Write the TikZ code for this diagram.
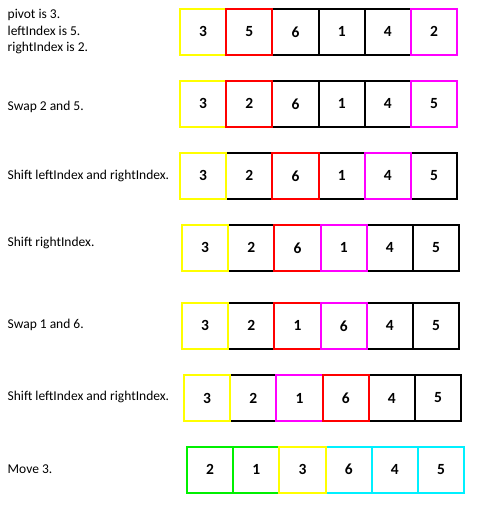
\documentclass[tikz,border=0pt]{standalone}
\usepackage{fontspec}
\setmainfont{Carlito}
\begin{document}
\begin{tikzpicture}[x=1pt,y=-1pt,
  cell/.style={draw=#1, line width=2pt, minimum width=46.2pt, minimum height=46.4pt,
    inner sep=0pt, outer sep=0pt, font=\fontsize{15.5}{17}\selectfont\bfseries},
  lbl/.style={anchor=west, inner sep=0pt, align=left,
    font=\fontsize{13.5}{16.5}\selectfont}]
\useasboundingbox (0,0) rectangle (479,506);
\definecolor{cy}{RGB}{255,255,0}
\definecolor{cr}{RGB}{255,0,0}
\definecolor{cm}{RGB}{255,0,255}
\definecolor{cg}{RGB}{0,240,0}
\definecolor{cc}{RGB}{0,240,255}
\definecolor{ck}{RGB}{0,0,0}
% rows: id / left x / center y / cells (black cells first so colored borders lie on top)
\foreach \r/\x/\yc/\cells in {
  1/180/31.8/{3/6/ck,4/1/ck,5/4/ck,1/3/cy,2/5/cr,6/2/cm},
  2/180/103.9/{3/6/ck,4/1/ck,5/4/ck,1/3/cy,2/2/cr,6/5/cm},
  3/180/175.9/{2/2/ck,4/1/ck,6/5/ck,1/3/cy,3/6/cr,5/4/cm},
  4/182/247.8/{2/2/ck,5/4/ck,6/5/ck,1/3/cy,3/6/cr,4/1/cm},
  5/182/325.9/{2/2/ck,5/4/ck,6/5/ck,1/3/cy,3/1/cr,4/6/cm},
  6/184/398.0/{2/2/ck,5/4/ck,6/5/ck,1/3/cy,3/1/cm,4/6/cr},
  7/187/469.7/{1/2/cg,2/1/cg,4/6/cc,5/4/cc,6/5/cc,3/3/cy}}{
  \foreach \i/\v/\c in \cells {
    \node[cell=\c] (r\r c\i) at ({\x+23.1+46.2*(\i-1)},\yc) {\v};
  }
}
\node[lbl] (l1) at (7.5,32) {pivot is 3.\\leftIndex is 5.\\rightIndex is 2.};
\node[lbl] (l2) at (7.5,107) {Swap 2 and 5.};
\node[lbl] (l3) at (7.5,175.5) {Shift leftIndex and rightIndex.};
\node[lbl] (l4) at (7.5,242.5) {Shift rightIndex.};
\node[lbl] (l5) at (7.5,325) {Swap 1 and 6.};
\node[lbl] (l6) at (7.5,396.5) {Shift leftIndex and rightIndex.};
\node[lbl] (l7) at (7.5,469) {Move 3.};
\end{tikzpicture}
\end{document}
